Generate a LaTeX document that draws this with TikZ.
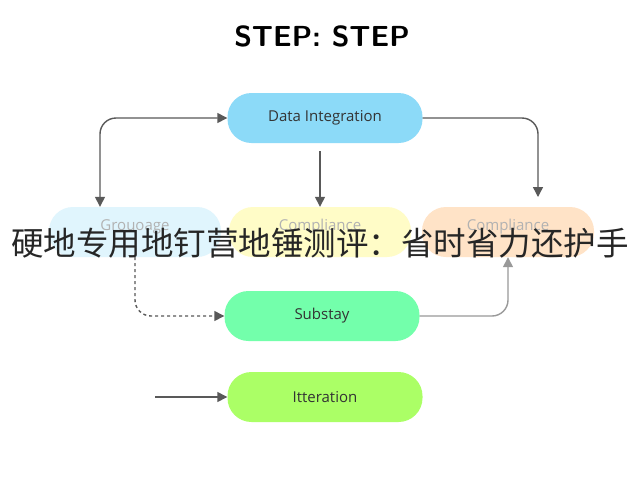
\documentclass[tikz,border=0pt]{standalone}
\usepackage{fontspec}
\setmainfont{Open Sans}
\newfontfamily\cjk{Noto Sans CJK SC}
\usetikzlibrary{arrows.meta}
\begin{document}
\begin{tikzpicture}[x=1pt,y=-1pt,
  box/.style={rounded corners=24pt,minimum height=50pt,font=\fontsize{15}{18}\selectfont,text=black!80,inner sep=0pt},
  faint/.style={box,text=black!30,text depth=14pt},
  arr/.style={draw=black!65,line width=1.4pt,-{Triangle[length=10pt,width=10pt]},rounded corners=16pt}]
\useasboundingbox (0,0) rectangle (640,480);
\fill[white] (0,0) rectangle (640,480);
\node[font=\sffamily\bfseries\fontsize{29}{32}\selectfont] (t) at (322,36) {STEP: STEP};
\node[box,fill=cyan!45,minimum width=195pt] (di) at (325,118) {Data Integration};
\node[faint,fill=cyan!12,minimum width=172pt] (g) at (135,232) {Grouoage};
\node[faint,fill=yellow!22,minimum width=182pt] (m) at (320,232) {Compliance};
\node[faint,fill=orange!22,minimum width=172pt] (c) at (508,232) {Compliance};
\node[box,fill=green!60!cyan!55,minimum width=195pt] (s) at (322,316) {Substay};
\node[box,fill=green!55!yellow!60,minimum width=195pt] (it) at (325,397) {Itteration};
\coordinate (st) at (155,397);
\draw[arr,{Triangle[length=10pt,width=10pt]}-{Triangle[length=10pt,width=10pt]}] (g.north -| 100,0) -- (100,118) -- (di.west);
\draw[arr] (di.south -| m.north) ++(0,8) -- (m.north);
\draw[arr] (di.east) -- (538,118) -- (538,197);
\draw[arr,dashed] (g.south) -- (135,316) -- (s.west);
\draw[arr,draw=black!40] (s.east) -- (508,316) -- (c.south);
\draw[arr] (st) -- (it.west);
\node[font=\cjk\fontsize{32.5}{34}\selectfont,text=black!85] (ov) at (320,243) {硬地专用地钉营地锤测评：省时省力还护手};
\end{tikzpicture}
\end{document}
